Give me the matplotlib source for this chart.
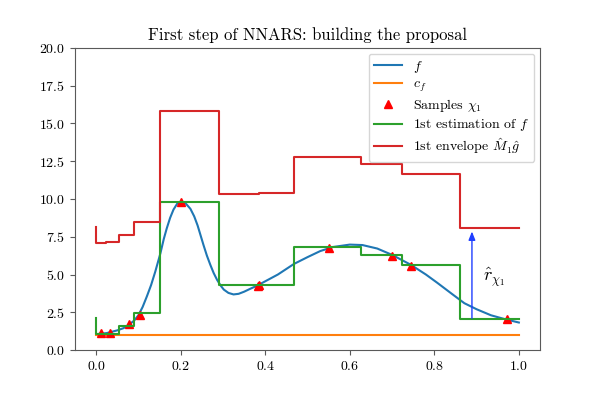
import numpy as np
import matplotlib
matplotlib.use('Agg')
import matplotlib.pyplot as plt

# target density f
f_x = [0.0, 0.025, 0.05, 0.065, 0.078, 0.09, 0.1, 0.11, 0.12, 0.13, 0.14,
       0.152, 0.16, 0.167, 0.175, 0.183, 0.192, 0.202, 0.212, 0.223, 0.232,
       0.24, 0.247, 0.254, 0.262, 0.27, 0.278, 0.286, 0.295, 0.302, 0.313,
       0.325, 0.337, 0.35, 0.365, 0.38, 0.4, 0.43, 0.468, 0.5, 0.53, 0.56,
       0.6, 0.63, 0.665, 0.7, 0.744, 0.78, 0.807, 0.84, 0.871, 0.9, 0.934,
       0.97, 1.0]
f_y = [1.05, 1.12, 1.3, 1.45, 1.68, 1.95, 2.3, 2.85, 3.55, 4.3, 5.2,
       6.4, 7.35, 8.05, 8.75, 9.3, 9.7, 9.85, 9.7, 9.35, 8.85,
       8.25, 7.6, 6.95, 6.25, 5.65, 5.1, 4.65, 4.25, 4.0, 3.78,
       3.68, 3.72, 3.86, 4.06, 4.25, 4.55, 5.0, 5.7, 6.15, 6.55, 6.82,
       6.98, 6.95, 6.72, 6.3, 5.65, 5.0, 4.45, 3.75, 3.1, 2.7, 2.3,
       2.02, 1.82]

c_f = 1.0

# samples chi_1
samp_x = [0.012, 0.033, 0.078, 0.104, 0.201, 0.382, 0.386, 0.55, 0.70, 0.746, 0.971]
samp_y = [1.1, 1.12, 1.72, 2.35, 9.8, 4.25, 4.3, 6.75, 6.25, 5.56, 2.08]

# piecewise constant estimation of f
est_x = [0.0, 0.0, 0.055, 0.09, 0.152, 0.29, 0.468, 0.626, 0.724, 0.86, 1.0]
est_y = [2.15, 1.06, 1.62, 2.48, 9.8, 4.3, 6.8, 6.29, 5.6, 2.08, 2.08]

# envelope M1 g
env_x = [0.0, 0.0, 0.023, 0.055, 0.09, 0.152, 0.29, 0.385, 0.468, 0.626, 0.724, 0.86, 1.0]
env_y = [8.15, 7.1, 7.17, 7.6, 8.5, 15.8, 10.3, 10.42, 12.8, 12.32, 11.66, 8.1, 8.1]

arrow_x = 0.889
arrow_lo, arrow_hi = 2.1, 7.85

params = {
    'font.family': 'serif',
    'font.serif': ['cmr10', 'DejaVu Serif'],
    'mathtext.fontset': 'cm',
    'axes.formatter.use_mathtext': True,
    'axes.unicode_minus': False,
    'axes.edgecolor': '0.35',
    'xtick.color': '0.35',
    'ytick.color': '0.35',
    'xtick.labelcolor': 'black',
    'ytick.labelcolor': 'black',
    'figure.figsize': [6, 4],
    'figure.dpi': 100,
}
plt.rcParams.update(params)

fig, ax = plt.subplots()
fig.subplots_adjust(bottom=0.125)

ax.plot(f_x, f_y, color='C0', label='$f$')
ax.plot([0.0, 1.0], [c_f, c_f], color='C1', label='$c_f$')
ax.plot(samp_x, samp_y, '^', color='red', markersize=6, label='Samples $\\chi_1$')
ax.step(est_x, est_y, where='post', color='C2', label='1st estimation of $f$')
ax.step(env_x, env_y, where='post', color='C3', label='1st envelope $\\hat{M}_1\\hat{g}$')

ax.annotate('', xy=(arrow_x, arrow_hi), xytext=(arrow_x, arrow_lo),
            arrowprops=dict(arrowstyle='-|>,head_width=0.2,head_length=0.5',
                            color='#1f3fff', lw=1.0, shrinkA=0, shrinkB=0))
ax.text(0.915, 4.6, '$\\hat{r}_{\\chi_1}$', fontsize=13)

ax.set_ylim(0, 20)
ax.set_title('First step of NNARS: building the proposal')
ax.legend(loc='upper right', labelspacing=0.22, borderaxespad=0.4)

fig.savefig('out.png', dpi=100)
